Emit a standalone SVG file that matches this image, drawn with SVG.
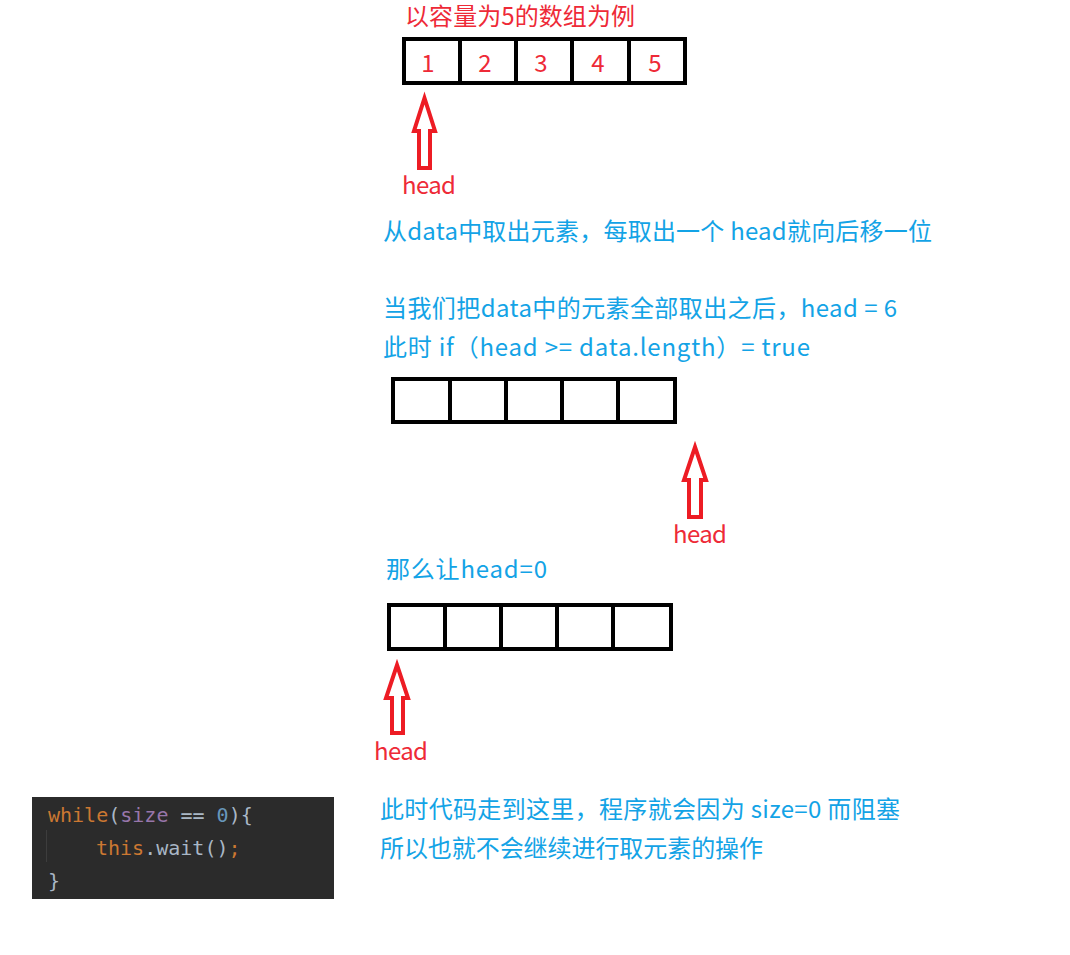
<svg xmlns="http://www.w3.org/2000/svg" width="1070" height="955" viewBox="0 0 1070 955">
<style>
.red{fill:#ee2a37;font-family:"Noto Sans CJK SC","Noto Sans",sans-serif;font-size:24px}
.blue{fill:#13a3e6;font-family:"Noto Sans CJK SC","Noto Sans",sans-serif;font-size:24px}
.num{fill:#ee2a37;font-family:"Noto Sans CJK SC","Noto Sans",sans-serif;font-size:24px;text-anchor:middle}
.box{fill:#fff;stroke:#000;stroke-width:4}
.div{stroke:#000;stroke-width:4}
.arrow{fill:#fff;stroke:#ed1c24;stroke-width:4;stroke-linejoin:miter}
.code{font-family:"DejaVu Sans Mono","Liberation Mono",monospace;font-size:20px}
</style>
<rect width="1070" height="955" fill="#fff"/>

<g id="title">
<text class="red" x="405" y="25" textLength="230" lengthAdjust="spacing">以容量为5的数组为例</text>
</g>

<g id="array1">
<rect class="box" x="404" y="39" width="281" height="44"/>
<line class="div" x1="460" y1="39" x2="460" y2="83"/>
<line class="div" x1="516" y1="39" x2="516" y2="83"/>
<line class="div" x1="572" y1="39" x2="572" y2="83"/>
<line class="div" x1="629" y1="39" x2="629" y2="83"/>
<text class="num" x="428" y="72">1</text>
<text class="num" x="485" y="72">2</text>
<text class="num" x="541" y="72">3</text>
<text class="num" x="598" y="72">4</text>
<text class="num" x="655" y="72">5</text>
</g>

<g id="head1">
<polygon class="arrow" points="424.5,98 435,131 430,131 430,168 419,168 419,131 414,131"/>
<text class="red" x="402" y="194" textLength="54" lengthAdjust="spacing">head</text>
</g>

<g id="text1">
<text class="blue" x="383" y="240" textLength="549" lengthAdjust="spacing">从data中取出元素，每取出一个 head就向后移一位</text>
<text class="blue" x="383" y="317" textLength="514" lengthAdjust="spacing">当我们把data中的元素全部取出之后，head = 6</text>
<text class="blue" x="383" y="356" textLength="427" lengthAdjust="spacing">此时 if（head &gt;= data.length）= true</text>
</g>

<g id="array2">
<rect class="box" x="393" y="379" width="282" height="43"/>
<line class="div" x1="450" y1="379" x2="450" y2="422"/>
<line class="div" x1="506" y1="379" x2="506" y2="422"/>
<line class="div" x1="562" y1="379" x2="562" y2="422"/>
<line class="div" x1="618" y1="379" x2="618" y2="422"/>
</g>

<g id="head2">
<polygon class="arrow" points="695,447 706,480 701,480 701,517 689,517 689,480 684,480"/>
<text class="red" x="673" y="543" textLength="54" lengthAdjust="spacing">head</text>
</g>

<g id="text2">
<text class="blue" x="386" y="578" textLength="161" lengthAdjust="spacing">那么让head=0</text>
</g>

<g id="array3">
<rect class="box" x="389" y="605" width="282" height="44"/>
<line class="div" x1="445" y1="605" x2="445" y2="649"/>
<line class="div" x1="501" y1="605" x2="501" y2="649"/>
<line class="div" x1="557" y1="605" x2="557" y2="649"/>
<line class="div" x1="613" y1="605" x2="613" y2="649"/>
</g>

<g id="head3">
<polygon class="arrow" points="397,665 408,698 403,698 403,733 392,733 392,698 386,698"/>
<text class="red" x="374" y="760" textLength="54" lengthAdjust="spacing">head</text>
</g>

<g id="code">
<rect x="32" y="797" width="302" height="102" fill="#2b2b2b"/>
<line x1="46.5" y1="830" x2="46.5" y2="862" stroke="#3d3d3d" stroke-width="1"/>
<text class="code" x="48" y="822"><tspan fill="#cc7832">while</tspan><tspan fill="#a9b7c6">(</tspan><tspan fill="#9876aa">size</tspan><tspan fill="#a9b7c6"> == </tspan><tspan fill="#6897bb">0</tspan><tspan fill="#a9b7c6">){</tspan></text>
<text class="code" x="96" y="855"><tspan fill="#cc7832">this</tspan><tspan fill="#a9b7c6">.wait()</tspan><tspan fill="#cc7832">;</tspan></text>
<text class="code" x="48" y="888" fill="#a9b7c6">}</text>
</g>

<g id="text3">
<text class="blue" x="380" y="818" textLength="520" lengthAdjust="spacing">此时代码走到这里，程序就会因为 size=0 而阻塞</text>
<text class="blue" x="380" y="857" textLength="383" lengthAdjust="spacing">所以也就不会继续进行取元素的操作</text>
</g>

<g id="connectors"></g>
</svg>
